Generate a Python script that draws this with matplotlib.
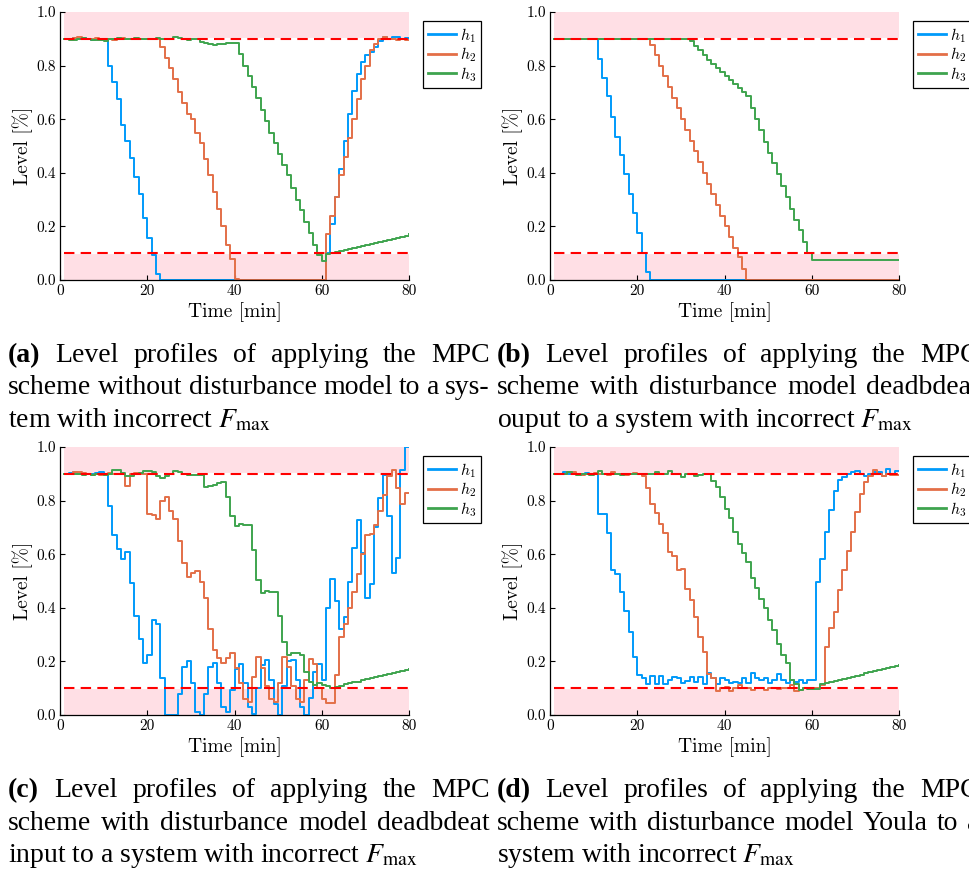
import numpy as np
import matplotlib
matplotlib.use('Agg')
import matplotlib.pyplot as plt

plt.rcParams['font.family'] = 'cmr10'
plt.rcParams['mathtext.fontset'] = 'cm'
plt.rcParams['axes.unicode_minus'] = False

# time axis [min], one sample per minute
t = np.arange(1, 81)

# (a) MPC without disturbance model
h1_a = ([0.9, 0.9, 0.902, 0.898, 0.903, 0.899, 0.897, 0.901, 0.899, 0.9]
        + [0.80, 0.74, 0.675, 0.58, 0.52, 0.455, 0.385, 0.32, 0.23, 0.157, 0.092, 0.022]
        + [0.0] * 38
        + [0.10, 0.21, 0.31, 0.415, 0.52, 0.62, 0.705, 0.77, 0.815, 0.84,
           0.85, 0.87, 0.89, 0.905, 0.9, 0.905, 0.908, 0.9, 0.903, 0.9])
h2_a = ([0.9, 0.9, 0.903, 0.905, 0.9, 0.898, 0.9, 0.902, 0.899, 0.9, 0.9,
         0.897, 0.899, 0.903, 0.9, 0.898, 0.9, 0.901, 0.9, 0.899, 0.9, 0.9]
        + [0.87, 0.83, 0.79, 0.75, 0.70, 0.66, 0.62, 0.60, 0.55, 0.51, 0.45, 0.39,
           0.33, 0.265, 0.20, 0.13, 0.08, 0.005]
        + [0.0] * 20
        + [0.17, 0.24, 0.31, 0.39, 0.46, 0.53, 0.60, 0.675, 0.75, 0.80,
           0.86, 0.88, 0.90, 0.905, 0.9, 0.9, 0.897, 0.9, 0.895, 0.895])
h3_a = ([0.9, 0.897, 0.895, 0.9, 0.903, 0.898, 0.895, 0.897, 0.895, 0.893,
         0.9, 0.9, 0.903, 0.9, 0.898, 0.9, 0.903, 0.9, 0.898, 0.9,
         0.9, 0.902, 0.9, 0.898, 0.9, 0.905, 0.903, 0.9, 0.897, 0.9, 0.898]
        + [0.887, 0.884, 0.88, 0.878, 0.879, 0.882, 0.883, 0.883, 0.883]
        + [0.845, 0.80, 0.76, 0.72, 0.68, 0.635, 0.595, 0.55, 0.51, 0.47, 0.43,
           0.39, 0.345, 0.30, 0.26, 0.215, 0.175, 0.13, 0.095, 0.07, 0.098]
        + [0.100, 0.104, 0.108, 0.112, 0.116, 0.119, 0.123, 0.127, 0.131, 0.135,
           0.139, 0.143, 0.147, 0.151, 0.154, 0.158, 0.162, 0.166, 0.170])

# (b) disturbance model deadbeat output
h1_b = ([0.9] * 10
        + [0.825, 0.755, 0.685, 0.61, 0.535, 0.465, 0.395, 0.32, 0.25, 0.175, 0.10, 0.03]
        + [0.0] * 58)
h2_b = ([0.9] * 22
        + [0.877, 0.84, 0.80, 0.76, 0.72, 0.68, 0.64, 0.60, 0.56, 0.52, 0.48,
           0.44, 0.40, 0.36, 0.32, 0.28, 0.24, 0.20, 0.16, 0.12, 0.085, 0.04]
        + [0.0] * 36)
h3_b = ([0.9] * 31
        + [0.89, 0.875, 0.86, 0.84, 0.82, 0.805, 0.79, 0.775, 0.76, 0.745,
           0.73, 0.715, 0.70, 0.685, 0.64, 0.60, 0.56, 0.515, 0.475, 0.435,
           0.395, 0.35, 0.31, 0.265, 0.225, 0.185, 0.14, 0.10, 0.075]
        + [0.075] * 20)

# (c) disturbance model deadbeat input
h1_c = ([0.9, 0.902, 0.905, 0.9, 0.9, 0.898, 0.9, 0.903, 0.905, 0.9]
        + [0.781, 0.672, 0.62, 0.582, 0.61, 0.493, 0.371, 0.284, 0.194, 0.224,
           0.355, 0.341, 0.137]
        + [0.0] * 3
        + [0.08, 0.18, 0.20, 0.118, 0.012, 0.0, 0.08, 0.18, 0.193, 0.118, 0.03, 0.012,
           0.093, 0.17, 0.19, 0.12, 0.03, 0.005, 0.10, 0.185, 0.205, 0.13, 0.04, 0.0,
           0.11, 0.20, 0.205, 0.13, 0.03, 0.0, 0.065, 0.16, 0.19, 0.13]
        + [0.40, 0.506, 0.427, 0.32, 0.364, 0.497, 0.622, 0.726, 0.603, 0.438,
           0.49, 0.70, 0.81, 0.895, 0.744, 0.53, 0.587, 0.914, 1.0, 1.0])
h2_c = ([0.9, 0.9, 0.905, 0.908, 0.903, 0.9, 0.897, 0.9, 0.895, 0.9, 0.903, 0.9, 0.9, 0.898]
        + [0.856]
        + [0.9, 0.902, 0.9, 0.9]
        + [0.75, 0.745, 0.73, 0.80, 0.815, 0.76, 0.73, 0.65, 0.566, 0.514, 0.529,
           0.539, 0.497, 0.438, 0.32, 0.243, 0.214, 0.193, 0.211, 0.23, 0.177]
        + [0.12, 0.06, 0.05, 0.14, 0.215, 0.175, 0.11, 0.06, 0.05, 0.12, 0.215,
           0.18, 0.11, 0.06, 0.05, 0.13, 0.21, 0.19, 0.10, 0.06, 0.045, 0.045]
        + [0.15, 0.29, 0.34, 0.40, 0.46, 0.525, 0.60, 0.67, 0.675, 0.71, 0.76,
           0.82, 0.89, 0.914, 0.846, 0.786, 0.827, 0.827])
h3_c = ([0.9, 0.9, 0.898, 0.9, 0.897, 0.9, 0.895, 0.9, 0.898, 0.895, 0.9]
        + [0.913, 0.913, 0.903, 0.89, 0.893, 0.9, 0.902, 0.91, 0.91, 0.908, 0.893,
           0.886, 0.893, 0.9, 0.912, 0.906, 0.9, 0.897, 0.897, 0.895, 0.895]
        + [0.852, 0.855, 0.86, 0.865, 0.868, 0.815, 0.742]
        + [0.705, 0.711, 0.709, 0.709, 0.616, 0.504, 0.456, 0.464, 0.46, 0.46, 0.37,
           0.274, 0.224, 0.23, 0.23, 0.224, 0.162, 0.124, 0.112, 0.118, 0.112, 0.109, 0.102]
        + [0.106, 0.110, 0.114, 0.118, 0.122, 0.125, 0.129, 0.133, 0.137, 0.141,
           0.145, 0.149, 0.153, 0.157, 0.160, 0.164, 0.168, 0.172])

# (d) disturbance model Youla
h1_d = ([0.9, 0.898, 0.905, 0.9, 0.903, 0.898, 0.9, 0.902, 0.898, 0.9]
        + [0.75, 0.75, 0.678, 0.54, 0.525, 0.458, 0.388, 0.311, 0.218, 0.149, 0.137, 0.114]
        + [0.146, 0.114, 0.146, 0.114, 0.13, 0.143, 0.137, 0.12, 0.127, 0.14,
           0.122, 0.142, 0.116, 0.155, 0.137, 0.114, 0.137, 0.13, 0.118, 0.125,
           0.118, 0.137, 0.118, 0.158, 0.137, 0.13, 0.137, 0.118, 0.13, 0.152,
           0.13, 0.118, 0.13, 0.124, 0.13, 0.121, 0.131, 0.131]
        + [0.497, 0.582, 0.684, 0.765, 0.836, 0.877, 0.887, 0.898, 0.908, 0.912,
           0.9, 0.89, 0.9, 0.908, 0.905, 0.893, 0.918, 0.9, 0.91, 0.91])
h2_d = ([0.9, 0.898, 0.9, 0.908, 0.905, 0.9, 0.895, 0.9, 0.9, 0.903, 0.9,
         0.898, 0.895, 0.908, 0.9, 0.9, 0.897, 0.9, 0.903, 0.9, 0.89]
        + [0.846, 0.786, 0.752, 0.713, 0.678, 0.61, 0.593, 0.541, 0.544, 0.47,
           0.43, 0.364, 0.29, 0.236, 0.152, 0.139, 0.09, 0.1]
        + [0.106, 0.09, 0.1, 0.112, 0.1, 0.1, 0.093, 0.1, 0.1, 0.093, 0.102, 0.1,
           0.098, 0.1, 0.1, 0.112, 0.09, 0.093, 0.1, 0.1, 0.1, 0.1, 0.112]
        + [0.255, 0.326, 0.386, 0.466, 0.541, 0.612, 0.682, 0.759, 0.823, 0.868,
           0.893, 0.914, 0.9, 0.89, 0.9, 0.895, 0.895, 0.895])
h3_d = ([0.9, 0.898, 0.9, 0.905, 0.9, 0.895, 0.9, 0.9, 0.897, 0.9,
         0.91, 0.9, 0.898, 0.9, 0.9, 0.897, 0.9, 0.9, 0.898, 0.9,
         0.9, 0.9, 0.9, 0.905, 0.9, 0.9, 0.912, 0.9, 0.9, 0.888,
         0.9, 0.9, 0.89, 0.895, 0.898, 0.898]
        + [0.873, 0.852, 0.815, 0.77, 0.734, 0.684, 0.637, 0.603, 0.57, 0.51,
           0.475, 0.433, 0.398, 0.354, 0.317, 0.264, 0.224, 0.193, 0.131, 0.114,
           0.093, 0.1, 0.097, 0.097, 0.097]
        + [0.115, 0.119, 0.123, 0.127, 0.131, 0.135, 0.139, 0.143, 0.147, 0.151,
           0.155, 0.159, 0.163, 0.167, 0.171, 0.175, 0.179, 0.183, 0.187])

# level limits and shaded band
h_low, h_high = 0.1, 0.9
band_x = [1, 80]

labels = ['$h_1$', '$h_2$', '$h_3$']
colors = ['#009afa', '#e36f47', '#3ea44e']
pink = '#ffdfe5'

captions = {
    'a': [("(a) Level profiles of applying the MPC", True),
          ("scheme without disturbance model to a sys-", True),
          (r"tem with incorrect $F_{\mathrm{max}}$", False)],
    'b': [("(b) Level profiles of applying the MPC", True),
          ("scheme with disturbance model deadbdeat", True),
          (r"ouput to a system with incorrect $F_{\mathrm{max}}$", False)],
    'c': [("(c) Level profiles of applying the MPC", True),
          ("scheme with disturbance model deadbdeat", True),
          (r"input to a system with incorrect $F_{\mathrm{max}}$", False)],
    'd': [("(d) Level profiles of applying the MPC", True),
          ("scheme with disturbance model Youla to a", True),
          (r"system with incorrect $F_{\mathrm{max}}$", False)],
}

W, H = 969, 873
fig = plt.figure(figsize=(W / 100, H / 100), dpi=100)

# pixel layout: (axes left, axes top, caption x0, caption top baseline)
layout = {
    'a': (60, 12, 8, 362, [h1_a, h2_a, h3_a]),
    'b': (550, 12, 497, 362, [h1_b, h2_b, h3_b]),
    'c': (60, 447, 8, 797, [h1_c, h2_c, h3_c]),
    'd': (550, 447, 497, 797, [h1_d, h2_d, h3_d]),
}
aw, ah = 349, 268
cap_size = 20

for key, (lx, ty, cx, cy, series) in layout.items():
    ax = fig.add_axes([lx / W, 1 - (ty + ah) / H, aw / W, ah / H])
    ax.fill_between(band_x, h_high, 1.0, color=pink, lw=0, zorder=0)
    ax.fill_between(band_x, 0.0, h_low, color=pink, lw=0, zorder=0)
    ax.hlines([h_low, h_high], band_x[0], band_x[1], colors='white', lw=1.6, zorder=1)
    for h, lab, c in zip(series, labels, colors):
        ax.step(t, h, where='post', color=c, lw=1.4, label=lab, zorder=2)
    ax.hlines([h_low, h_high], band_x[0], band_x[1], colors='red', lw=1.5,
              linestyles=(0, (5, 3)), zorder=3)
    ax.set_xlim(0, 80)
    ax.set_ylim(0, 1)
    ax.set_xticks([0, 20, 40, 60, 80])
    ax.set_yticks([0.0, 0.2, 0.4, 0.6, 0.8, 1.0])
    ax.set_yticklabels(['0.0', '0.2', '0.4', '0.6', '0.8', '1.0'])
    ax.tick_params(direction='in', length=3.5, width=0.8, labelsize=11, pad=3)
    for s in ['top', 'right']:
        ax.spines[s].set_visible(False)
    for s in ['left', 'bottom']:
        ax.spines[s].set_linewidth(0.9)
    ax.set_xlabel('Time [min]', fontsize=14, labelpad=3)
    ax.set_ylabel('Level [%]', fontsize=14, labelpad=2)
    leg = ax.legend(loc='upper left', bbox_to_anchor=((lx + aw + 14) / W, 1 - (ty + 9) / H),
                    bbox_transform=fig.transFigure, fancybox=False, edgecolor='black',
                    framealpha=1, borderaxespad=0, fontsize=11.5, handlelength=1.75,
                    handletextpad=0.25, labelspacing=0.05, borderpad=0.3)
    leg.get_frame().set_linewidth(0.9)
    for ln in leg.get_lines():
        ln.set_linewidth(2.0)

# captions, justified like the thesis layout
renderer = fig.canvas.get_renderer()
for key, (lx, ty, cx, cy, series) in layout.items():
    x1 = cx + 482
    for k, (line, justify) in enumerate(captions[key]):
        y = 1 - (cy + k * 32.5) / H
        if not justify:
            fig.text(cx / W, y, line, fontsize=cap_size, family='Liberation Serif',
                     math_fontfamily='stix', va='baseline', ha='left')
            continue
        words = line.split(' ')
        items = []
        for w in words:
            bold = w.startswith('(') and w.endswith(')')
            items.append(fig.text(0, y, w, fontsize=cap_size, family='Liberation Serif',
                                  fontweight='bold' if bold else 'normal',
                                  math_fontfamily='stix', va='baseline', ha='left'))
        widths = [it.get_window_extent(renderer).width for it in items]
        gap = (x1 - cx - sum(widths)) / (len(words) - 1)
        x = cx
        for it, wd in zip(items, widths):
            it.set_x(x / W)
            x += wd + gap

fig.savefig('out.png', dpi=100)
